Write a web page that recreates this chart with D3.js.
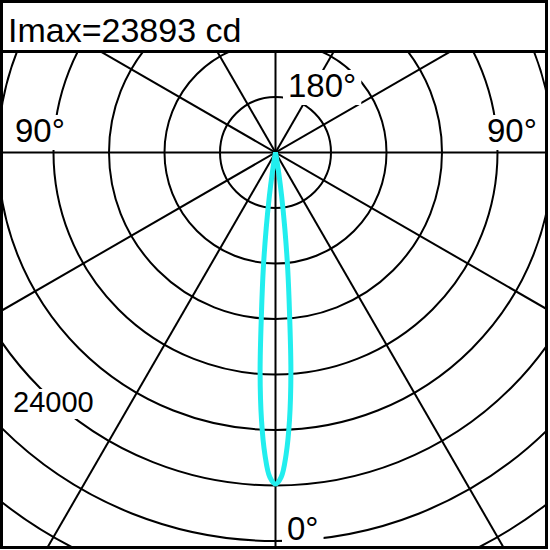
<!DOCTYPE html>
<html>
<head>
<meta charset="utf-8">
<script src="https://cdn.jsdelivr.net/npm/d3@7"></script>
<style>
  html, body { margin: 0; padding: 0; background: #fff; }
  svg { display: block; }
  text { font-family: "Liberation Sans", Arial, sans-serif; fill: #000; }
</style>
</head>
<body>
<svg id="chart" width="550" height="550"></svg>
<script>
// ---- data ----
const title = "Imax=23893 cd";
const ringValues = [4000, 8000, 12000, 16000, 20000, 24000, 28000, 32000, 36000];
const rayAngles = [0, 30, 60, 90, 120, 150];           // lines through centre (deg)
const lobeAngles = [0, 1, 2, 3, 4, 5, 6, 7, 8, 9, 10, 11, 12];   // deg from nadir
const lobeValues = [23893, 23400, 21800, 19300, 15900, 11600, 8400, 5500, 3200, 1500, 500, 150, 0]; // cd
const angleLabels = [
  {text: "180°", x: 288, y: 97},
  {text: "90°",  x: 15,  y: 142},
  {text: "90°",  x: 487, y: 142},
  {text: "0°",   x: 287, y: 540}
];
const valueLabel = {text: "24000", x: 13, y: 412};

// ---- layout ----
const W = 550, H = 550;
const cx = 275.5, cy = 152.5;
const headerH = 51.5;
const svg = d3.select("#chart");

const r = d3.scaleLinear().domain([0, 4000]).range([0, 55.5]);

svg.append("defs").append("clipPath").attr("id", "plotclip")
  .append("rect").attr("x", 1.5).attr("y", headerH).attr("width", 545).attr("height", H - headerH - 3);

const plot = svg.append("g").attr("clip-path", "url(#plotclip)");
const g = plot.append("g").attr("transform", `translate(${cx},${cy})`);

// rings
g.selectAll("circle.ring").data(ringValues).enter().append("circle")
  .attr("class", "ring")
  .attr("r", d => r(d))
  .attr("fill", "none").attr("stroke", "#000").attr("stroke-width", 2);

// rays
const L = 800;
g.selectAll("line.ray").data(rayAngles).enter().append("line")
  .attr("class", "ray")
  .attr("x1", d => -L * Math.sin(d * Math.PI / 180))
  .attr("y1", d => -L * Math.cos(d * Math.PI / 180))
  .attr("x2", d => L * Math.sin(d * Math.PI / 180))
  .attr("y2", d => L * Math.cos(d * Math.PI / 180))
  .attr("stroke", "#000").attr("stroke-width", 2);

// label masks + labels
function addLabel(lbl, size) {
  const t = plot.append("text")
    .attr("x", lbl.x).attr("y", lbl.y)
    .attr("font-size", size)
    .text(lbl.text);
  const bb = t.node().getBBox();
  plot.insert("rect", "text")
    .attr("x", bb.x - 5).attr("y", bb.y + 3)
    .attr("width", bb.width + 10).attr("height", bb.height - 2)
    .attr("fill", "#fff");
  return t;
}

// lobe
const pts = [];
for (let i = lobeAngles.length - 1; i >= 0; i--) pts.push([-lobeAngles[i], lobeValues[i]]);
for (let i = 1; i < lobeAngles.length; i++) pts.push([lobeAngles[i], lobeValues[i]]);
const lobe = d3.lineRadial()
  .angle(d => Math.PI - d[0] * Math.PI / 180)
  .radius(d => r(d[1]))
  .curve(d3.curveCatmullRom);
g.append("path").attr("d", lobe(pts))
  .attr("fill", "none").attr("stroke", "#22EEEE").attr("stroke-width", 5)
  .attr("stroke-linejoin", "round");

angleLabels.forEach(l => addLabel(l, 33));
addLabel(valueLabel, 29);

// frame and header
svg.append("rect").attr("x", 1.5).attr("y", 1.5).attr("width", 545).attr("height", 546)
  .attr("fill", "none").attr("stroke", "#000").attr("stroke-width", 3);
svg.append("line").attr("x1", 0).attr("x2", 548).attr("y1", headerH).attr("y2", headerH)
  .attr("stroke", "#000").attr("stroke-width", 3);
svg.append("text").attr("x", 8).attr("y", 42).attr("font-size", 34).text(title);
</script>
</body>
</html>
